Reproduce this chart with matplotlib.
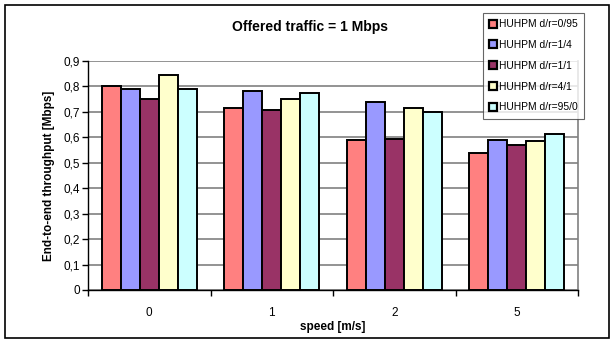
import matplotlib
matplotlib.use("Agg")
import matplotlib.pyplot as plt
import numpy as np
from matplotlib.patches import Rectangle

plt.rcParams["font.family"] = ["Liberation Sans", "DejaVu Sans"]

speeds = ["0", "1", "2", "5"]
series = ["HUHPM d/r=0/95", "HUHPM d/r=1/4", "HUHPM d/r=1/1",
          "HUHPM d/r=4/1", "HUHPM d/r=95/0"]
throughput = [
    [0.80, 0.717, 0.590, 0.537],
    [0.789, 0.783, 0.740, 0.591],
    [0.752, 0.708, 0.592, 0.569],
    [0.846, 0.752, 0.715, 0.586],
    [0.789, 0.773, 0.700, 0.612],
]
colors = ["#FF8080", "#9999FF", "#993366", "#FFFFCC", "#CCFFFF"]
yticks = [0, 0.1, 0.2, 0.3, 0.4, 0.5, 0.6, 0.7, 0.8, 0.9]
ytick_labels = ["0", "0,1", "0,2", "0,3", "0,4", "0,5", "0,6", "0,7", "0,8", "0,9"]

W, H = 610, 341
fig = plt.figure(figsize=(W / 100, H / 100), dpi=100)
ax = fig.add_axes([88 / W, 1 - 290 / H, (578 - 88) / W, (290 - 61) / H])

x = np.arange(len(speeds))
bw = 0.155
for i, vals in enumerate(throughput):
    ax.bar(x + (i - 2) * bw, vals, width=bw, color=colors[i],
           edgecolor="black", linewidth=1.4, zorder=3)

ax.set_xlim(-0.5, len(speeds) - 0.5)
ax.set_ylim(0, 0.9)
ax.set_yticks(yticks)
ax.set_yticklabels(ytick_labels, fontsize=8.5)
ax.set_xticks(x)
ax.set_xticklabels(speeds, fontsize=8.5)
ax.set_xticks(np.arange(-0.5, len(speeds)), minor=True)
ax.tick_params(axis="x", which="major", length=0, pad=12)
ax.tick_params(axis="x", which="minor", length=4, width=1, direction="out")
ax.tick_params(axis="y", length=4, width=1, direction="out", pad=2)

ax.yaxis.grid(True, color="#808080", linewidth=1.2, zorder=0)
ax.spines["top"].set_visible(False)
ax.spines["right"].set_color("#808080")
ax.spines["right"].set_linewidth(1.2)
ax.spines["left"].set_linewidth(1.0)
ax.spines["bottom"].set_linewidth(1.0)

ax.set_ylabel("End-to-end throughput [Mbps]", fontsize=8.5, fontweight="bold",
              labelpad=6)
ax.set_xlabel("speed [m/s]", fontsize=8.5, fontweight="bold", labelpad=2)
fig.text(310 / W, 1 - 27 / H, "Offered traffic = 1 Mbps", fontsize=10,
         fontweight="bold", ha="center", va="center")

# legend keys: small squares with a heavy black outline
handles = [Rectangle((0, 0), 1, 1, facecolor=c, edgecolor="black", linewidth=1.6)
           for c in colors]
leg = ax.legend(handles, series, loc="upper left",
                bbox_to_anchor=(483 / W, 1 - 13 / H),
                bbox_transform=fig.transFigure, fontsize=7.4, frameon=True,
                fancybox=False, edgecolor="#404040", handlelength=0.8,
                handleheight=0.8, handletextpad=0.15, labelspacing=1.05,
                borderpad=0.6, borderaxespad=0)
leg.get_frame().set_linewidth(0.8)
leg.set_zorder(5)

# outer chart border
fig.patches.append(Rectangle((5 / W, 3 / H), 604 / W, 333 / H,
                             transform=fig.transFigure, fill=False,
                             edgecolor="black", linewidth=1.2))

fig.savefig("out.png", dpi=100)
